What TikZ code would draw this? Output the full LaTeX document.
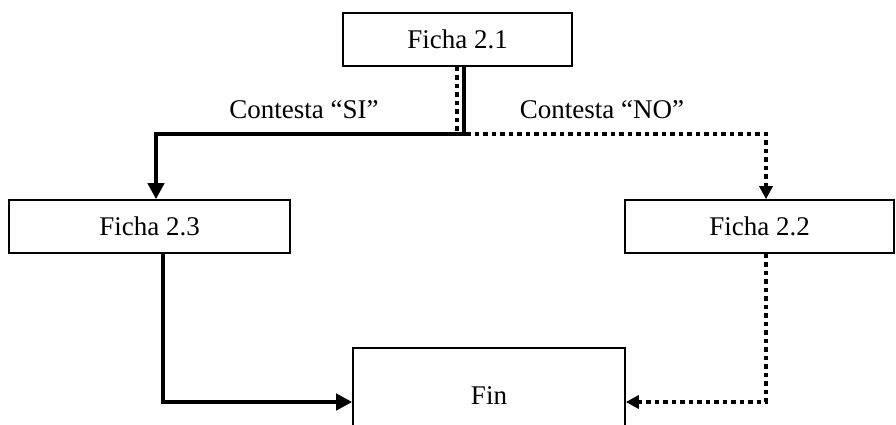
\documentclass[tikz,border=0pt]{standalone}
\usepackage{fontspec}
\setmainfont{Liberation Serif}
\usetikzlibrary{arrows.meta}
\begin{document}
\begin{tikzpicture}[x=1pt,y=-1pt,
  box/.style={draw,line width=1.6pt,minimum width=#1,minimum height=53pt,inner sep=0pt,font=\fontsize{27}{32}\selectfont},
  box/.default=229pt,
  lbl/.style={font=\fontsize{27}{32}\selectfont,inner sep=0pt},
  solidc/.style={line width=4.5pt,-{Triangle[length=16pt,width=16pt]}},
  dotc/.style={line width=4.5pt,dash pattern=on 4.5pt off 4pt,-{Triangle[length=13pt,width=13pt]}}]
\useasboundingbox (0,0) rectangle (896,424);
\clip (0,0) rectangle (896,424);
\node[box=229pt] (f21) at (457.5,39.5) {Ficha 2.1};
\node[box=281pt] (f23) at (149.5,226.5) {Ficha 2.3};
\node[box=269pt] (f22) at (759.5,226.5) {Ficha 2.2};
\node[box=272pt,minimum height=102pt] (fin) at (489,399) {};
\node[lbl] (tfin) at (489,396) {Fin};
\node[lbl] (lsi) at (304,110) {Contesta “SI”};
\node[lbl] (lno) at (602,110) {Contesta “NO”};
\coordinate (js) at (464,134);
\coordinate (jd) at (457,134);
\draw[dotc] (f21.south -| jd) -- (jd) -| ([xshift=6.5pt]f22.north);
\draw[solidc] (f21.south -| js) -- (js) -| ([xshift=6.5pt]f23.north);
\coordinate (bs) at (163,402);
\coordinate (bd) at (766,402);
\draw[solidc] (f23.south -| bs) |- (fin.west |- bs);
\draw[dotc] (f22.south -| bd) |- (fin.east |- bd);
\end{tikzpicture}
\end{document}
